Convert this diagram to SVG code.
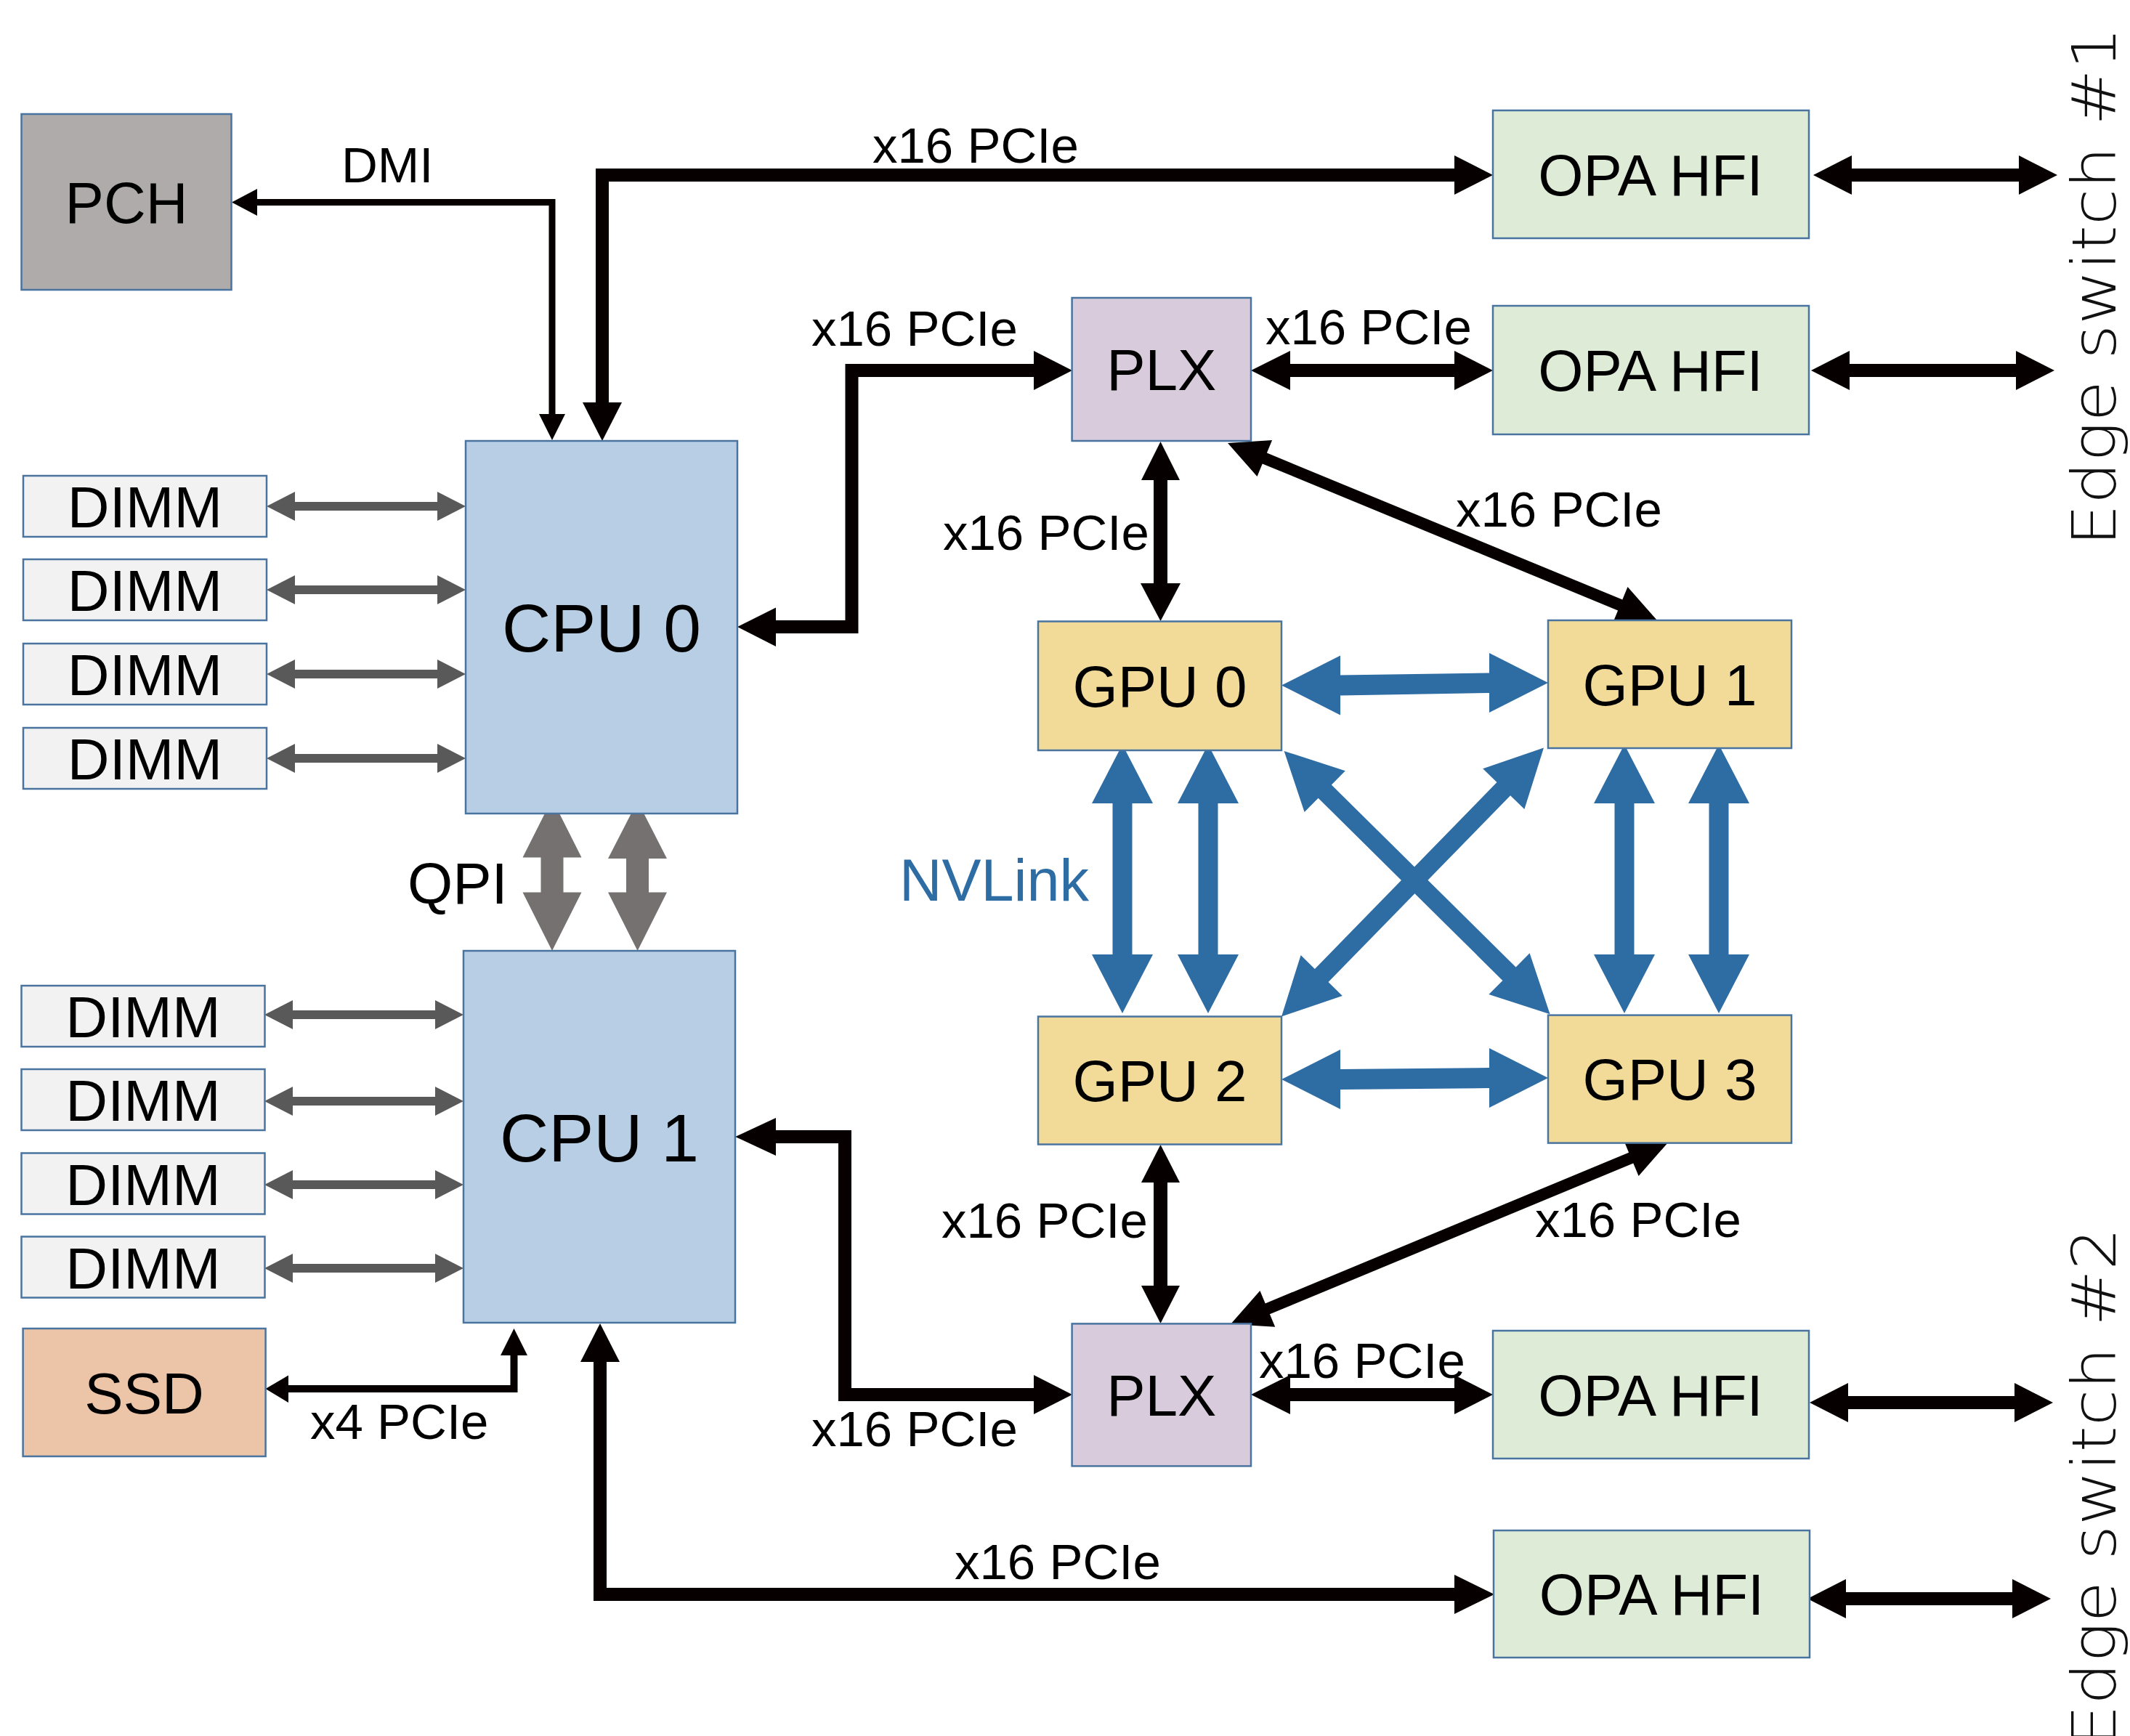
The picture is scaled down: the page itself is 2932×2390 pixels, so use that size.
<svg xmlns="http://www.w3.org/2000/svg" width="2932" height="2390" viewBox="0 0 2932 2390">
<style>
.box{stroke:#4a74a0;stroke-width:2.5}
.pch{fill:#afabab}.cpu{fill:#b8cee4}.dimm{fill:#f2f2f2}.ssd{fill:#ecc4a7}
.plx{fill:#d8ccdc}.opa{fill:#deebd7}.gpu{fill:#f2db98}
.t{font-family:"Liberation Sans",Arial,sans-serif;font-size:80px;fill:#000;text-anchor:middle}
.tc{font-size:93px}
.lbl{font-family:"Liberation Sans",Arial,sans-serif;font-size:69px;fill:#000}
.big{font-size:80px}
.nvl{font-size:81px;fill:#2e6ca4}
.blk{fill:none;stroke:#060000;stroke-linejoin:miter;stroke-linecap:butt}
.bh{fill:#060000}
.gs{fill:none;stroke:#595959;stroke-width:12}
.gh{fill:#595959}
.qpi{fill:#767171}
.nv{fill:#2e6ca4}
.edge{font-family:"DejaVu Sans",sans-serif;font-size:84px;font-weight:200;fill:#111}
</style>
<rect width="2932" height="2390" fill="#fff"/>

<g id="connectors">
  <!-- DMI -->
  <path class="blk" stroke-width="9" d="M760,572 V278.5 H352"/>
  <polygon class="bh" points="319,278.5 354,260 354,297"/>
  <polygon class="bh" points="760,606 742,570 778,570"/>
  <!-- CPU0 to OPA HFI 1 -->
  <path class="blk" stroke-width="18" d="M829,556 V241 H2004"/>
  <polygon class="bh" points="829,607 802,554 856,554"/>
  <polygon class="bh" points="2055,241 2002,214 2002,268"/>
  <!-- CPU0 to PLX top -->
  <path class="blk" stroke-width="18" d="M1066,863 H1172.5 V510 H1424"/>
  <polygon class="bh" points="1015,863 1068,836.5 1068,890"/>
  <polygon class="bh" points="1476,510 1423,483 1423,537"/>
  <!-- PLX top to OPA HFI 2 -->
  <path class="blk" stroke-width="18" d="M1774,510 H2004"/>
  <polygon class="bh" points="1722,510 1776,483 1776,537"/>
  <polygon class="bh" points="2055,510 2002,483 2002,537"/>
  <!-- OPA HFI to edge switches -->
  <path class="blk" stroke-width="18" d="M2547,241 H2781"/>
  <polygon class="bh" points="2496,241 2549,214 2549,268"/>
  <polygon class="bh" points="2832,241 2779,214 2779,268"/>
  <path class="blk" stroke-width="18" d="M2544,510 H2777"/>
  <polygon class="bh" points="2493,510 2546,483 2546,537"/>
  <polygon class="bh" points="2828,510 2775,483 2775,537"/>
  <path class="blk" stroke-width="18" d="M2542,1931 H2775"/>
  <polygon class="bh" points="2491,1931 2544,1904 2544,1958"/>
  <polygon class="bh" points="2826,1931 2773,1904 2773,1958"/>
  <path class="blk" stroke-width="18" d="M2539,2201 H2772"/>
  <polygon class="bh" points="2488,2201 2541,2174 2541,2228"/>
  <polygon class="bh" points="2823,2201 2770,2174 2770,2228"/>
  <!-- PLX top to GPU 0 -->
  <path class="blk" stroke-width="19" d="M1597.5,659 V805"/>
  <polygon class="bh" points="1597.5,608 1571,661 1624,661"/>
  <polygon class="bh" points="1597.5,855 1570,803 1625,803"/>
  <!-- PLX top to GPU 1 -->
  <polygon class="bh" points="1690,610 1751.1,606.0 1743.9,623.6 2233.3,825.6 2240.5,808.0 2281,854 2219.9,858.0 2227.1,840.4 1737.7,638.4 1730.5,656.0"/>
  <!-- GPU 2 to PLX bottom -->
  <path class="blk" stroke-width="19" d="M1597.5,1626 V1771"/>
  <polygon class="bh" points="1597.5,1576 1571,1628 1624,1628"/>
  <polygon class="bh" points="1597.5,1822 1571,1770 1624,1770"/>
  <!-- GPU 3 to PLX bottom -->
  <polygon class="bh" points="2296,1573 2234.8,1569.2 2242.1,1586.7 1741.7,1794.5 1734.4,1777.0 1694,1823 1755.2,1826.8 1747.9,1809.3 2248.3,1601.5 2255.6,1619.0"/>
  <!-- PLX bottom to OPA HFI 3 -->
  <path class="blk" stroke-width="18" d="M1774,1920 H2004"/>
  <polygon class="bh" points="1722,1920 1776,1893 1776,1947"/>
  <polygon class="bh" points="2055,1920 2002,1893 2002,1947"/>
  <!-- CPU1 to PLX bottom -->
  <path class="blk" stroke-width="18" d="M1066,1565 H1163 V1920 H1424"/>
  <polygon class="bh" points="1012,1565 1068,1539 1068,1591"/>
  <polygon class="bh" points="1476,1920 1423,1893 1423,1947"/>
  <!-- CPU1 to OPA HFI 4 -->
  <path class="blk" stroke-width="18" d="M826,1873 V2195 H2004"/>
  <polygon class="bh" points="826,1822 799,1875 853,1875"/>
  <polygon class="bh" points="2057,2195 2002,2168 2002,2222"/>
  <!-- SSD to CPU1 -->
  <path class="blk" stroke-width="10" d="M394,1912 H707.5 V1863"/>
  <polygon class="bh" points="365.5,1912 397,1893.5 397,1931"/>
  <polygon class="bh" points="707.5,1829 689,1866 726,1866"/>
  <!-- DIMM arrows CPU0 -->
  <path class="gs" d="M404,697 H604 M404,812 H604 M404,928 H604 M404,1044 H604"/>
  <polygon class="gh" points="367,697 406,677 406,717"/><polygon class="gh" points="641,697 602,677 602,717"/>
  <polygon class="gh" points="367,812 406,792 406,832"/><polygon class="gh" points="641,812 602,792 602,832"/>
  <polygon class="gh" points="367,928 406,908 406,948"/><polygon class="gh" points="641,928 602,908 602,948"/>
  <polygon class="gh" points="367,1044 406,1024 406,1064"/><polygon class="gh" points="641,1044 602,1024 602,1064"/>
  <!-- DIMM arrows CPU1 -->
  <path class="gs" d="M401,1397 H601 M401,1516 H601 M401,1631 H601 M401,1746 H601"/>
  <polygon class="gh" points="364,1397 403,1377 403,1417"/><polygon class="gh" points="638,1397 599,1377 599,1417"/>
  <polygon class="gh" points="364,1516 403,1496 403,1536"/><polygon class="gh" points="638,1516 599,1496 599,1536"/>
  <polygon class="gh" points="364,1631 403,1611 403,1651"/><polygon class="gh" points="638,1631 599,1611 599,1651"/>
  <polygon class="gh" points="364,1746 403,1726 403,1766"/><polygon class="gh" points="638,1746 599,1726 599,1766"/>
  <!-- QPI -->
  <polygon class="qpi" points="760,1100 800.5,1180.5 775.5,1180.5 775.5,1228.5 800.5,1228.5 760,1309 719.5,1228.5 744.5,1228.5 744.5,1180.5 719.5,1180.5"/>
  <polygon class="qpi" points="877.6,1103 918,1182 893,1182 893,1228.5 918,1228.5 877.6,1309 837,1228.5 862,1228.5 862,1182 837,1182"/>
  <!-- NVLink -->
  <polygon class="nv" points="1764,943.5 1845,902.5 1845,929.5 2050,926.5 2050,899 2131,940 2050,981 2050,954 1845,957.5 1845,984.5"/>
  <polygon class="nv" points="1764,1486 1845,1445 1845,1472 2050,1470 2050,1443 2131,1484 2050,1525 2050,1498 1845,1500 1845,1527"/>
  <polygon class="nv" points="1545,1025 1587,1106 1558.5,1106 1558.5,1314 1587,1314 1545,1395 1503,1314 1531.5,1314 1531.5,1106 1503,1106"/>
  <polygon class="nv" points="1663,1025 1705,1106 1676.5,1106 1676.5,1314 1705,1314 1663,1395 1621,1314 1649.5,1314 1649.5,1106 1621,1106"/>
  <polygon class="nv" points="2236,1025 2278,1106 2249.5,1106 2249.5,1314 2278,1314 2236,1395 2194,1314 2222.5,1314 2222.5,1106 2194,1106"/>
  <polygon class="nv" points="2366,1025 2408,1106 2379.5,1106 2379.5,1314 2408,1314 2366,1395 2324,1314 2352.5,1314 2352.5,1106 2324,1106"/>
  <polygon class="nv" points="1767.6,1034 1851.8,1061.2 1832.8,1080.4 2086.6,1331.5 2105.6,1312.3 2133.6,1396.3 2049.4,1369.1 2068.4,1349.9 1814.6,1098.8 1795.6,1118.0"/>
  <polygon class="nv" points="2125,1029.6 2041.2,1058.2 2060.5,1077.0 1809.9,1333.9 1790.6,1315.1 1764,1399.5 1847.8,1370.9 1828.5,1352.1 2079.1,1095.2 2098.4,1114.0"/>
  <!-- connector labels -->
  <text class="lbl" x="470" y="251">DMI</text>
  <text class="lbl" x="1201" y="224">x16 PCIe</text>
  <text class="lbl" x="1117" y="476">x16 PCIe</text>
  <text class="lbl" x="1742" y="474">x16 PCIe</text>
  <text class="lbl" x="1298" y="757">x16 PCIe</text>
  <text class="lbl" x="2004" y="725">x16 PCIe</text>
  <text class="lbl" x="1296" y="1704">x16 PCIe</text>
  <text class="lbl" x="2113" y="1703">x16 PCIe</text>
  <text class="lbl" x="1733" y="1897">x16 PCIe</text>
  <text class="lbl" x="1117" y="1991">x16 PCIe</text>
  <text class="lbl" x="1314" y="2174">x16 PCIe</text>
  <text class="lbl" x="427" y="1981">x4 PCIe</text>
  <text class="lbl big" x="561" y="1244">QPI</text>
  <text class="lbl nvl" x="1238" y="1240">NVLink</text>
</g>

<g id="pch"><rect class="box pch" x="29.5" y="157" width="289" height="242"/><text class="t" x="174" y="307">PCH</text></g>
<g id="cpu0"><rect class="box cpu" x="641" y="607" width="374" height="513"/><text class="t tc" x="828" y="897">CPU 0</text></g>
<g id="cpu1"><rect class="box cpu" x="638" y="1309" width="374" height="512"/><text class="t tc" x="825" y="1599">CPU 1</text></g>
<g id="dimm0"><rect class="box dimm" x="32" y="655" width="335" height="84"/><text class="t" x="199.5" y="726">DIMM</text></g>
<g id="dimm1"><rect class="box dimm" x="32" y="770" width="335" height="84"/><text class="t" x="199.5" y="841">DIMM</text></g>
<g id="dimm2"><rect class="box dimm" x="32" y="886" width="335" height="84"/><text class="t" x="199.5" y="957">DIMM</text></g>
<g id="dimm3"><rect class="box dimm" x="32" y="1002" width="335" height="84"/><text class="t" x="199.5" y="1073">DIMM</text></g>
<g id="dimm4"><rect class="box dimm" x="29.5" y="1357" width="335" height="84"/><text class="t" x="197" y="1428">DIMM</text></g>
<g id="dimm5"><rect class="box dimm" x="29.5" y="1472" width="335" height="84"/><text class="t" x="197" y="1543">DIMM</text></g>
<g id="dimm6"><rect class="box dimm" x="29.5" y="1587.5" width="335" height="84"/><text class="t" x="197" y="1658.5">DIMM</text></g>
<g id="dimm7"><rect class="box dimm" x="29.5" y="1702.5" width="335" height="84"/><text class="t" x="197" y="1773.5">DIMM</text></g>
<g id="ssd"><rect class="box ssd" x="31.6" y="1829" width="334" height="176"/><text class="t" x="198.6" y="1946">SSD</text></g>
<g id="plx0"><rect class="box plx" x="1475.6" y="410" width="246.4" height="197"/><text class="t" x="1598.8" y="537">PLX</text></g>
<g id="plx1"><rect class="box plx" x="1475.6" y="1822.4" width="246.4" height="196"/><text class="t" x="1598.8" y="1949">PLX</text></g>
<g id="opa0"><rect class="box opa" x="2055" y="152" width="435" height="176"/><text class="t" x="2272" y="269">OPA HFI</text></g>
<g id="opa1"><rect class="box opa" x="2055" y="421" width="435" height="177"/><text class="t" x="2272" y="538">OPA HFI</text></g>
<g id="opa2"><rect class="box opa" x="2055" y="1832" width="435" height="176"/><text class="t" x="2272" y="1949">OPA HFI</text></g>
<g id="opa3"><rect class="box opa" x="2056" y="2107" width="435" height="175"/><text class="t" x="2273.5" y="2223">OPA HFI</text></g>
<g id="gpu0"><rect class="box gpu" x="1429" y="855.5" width="335" height="177.5"/><text class="t" x="1596.5" y="973">GPU 0</text></g>
<g id="gpu1"><rect class="box gpu" x="2131" y="854" width="335" height="176"/><text class="t" x="2298.5" y="971">GPU 1</text></g>
<g id="gpu2"><rect class="box gpu" x="1429" y="1399.5" width="335" height="176"/><text class="t" x="1596.5" y="1516">GPU 2</text></g>
<g id="gpu3"><rect class="box gpu" x="2131" y="1397.6" width="335" height="176"/><text class="t" x="2298.5" y="1514">GPU 3</text></g>
<g id="edge1"><text class="edge" transform="translate(2912,752) rotate(-90)" x="0" y="0" textLength="715" lengthAdjust="spacingAndGlyphs">Edge switch #1</text></g>
<g id="edge2"><text class="edge" transform="translate(2912,2405) rotate(-90)" x="0" y="0" textLength="715" lengthAdjust="spacingAndGlyphs">Edge switch #2</text></g>
</svg>
